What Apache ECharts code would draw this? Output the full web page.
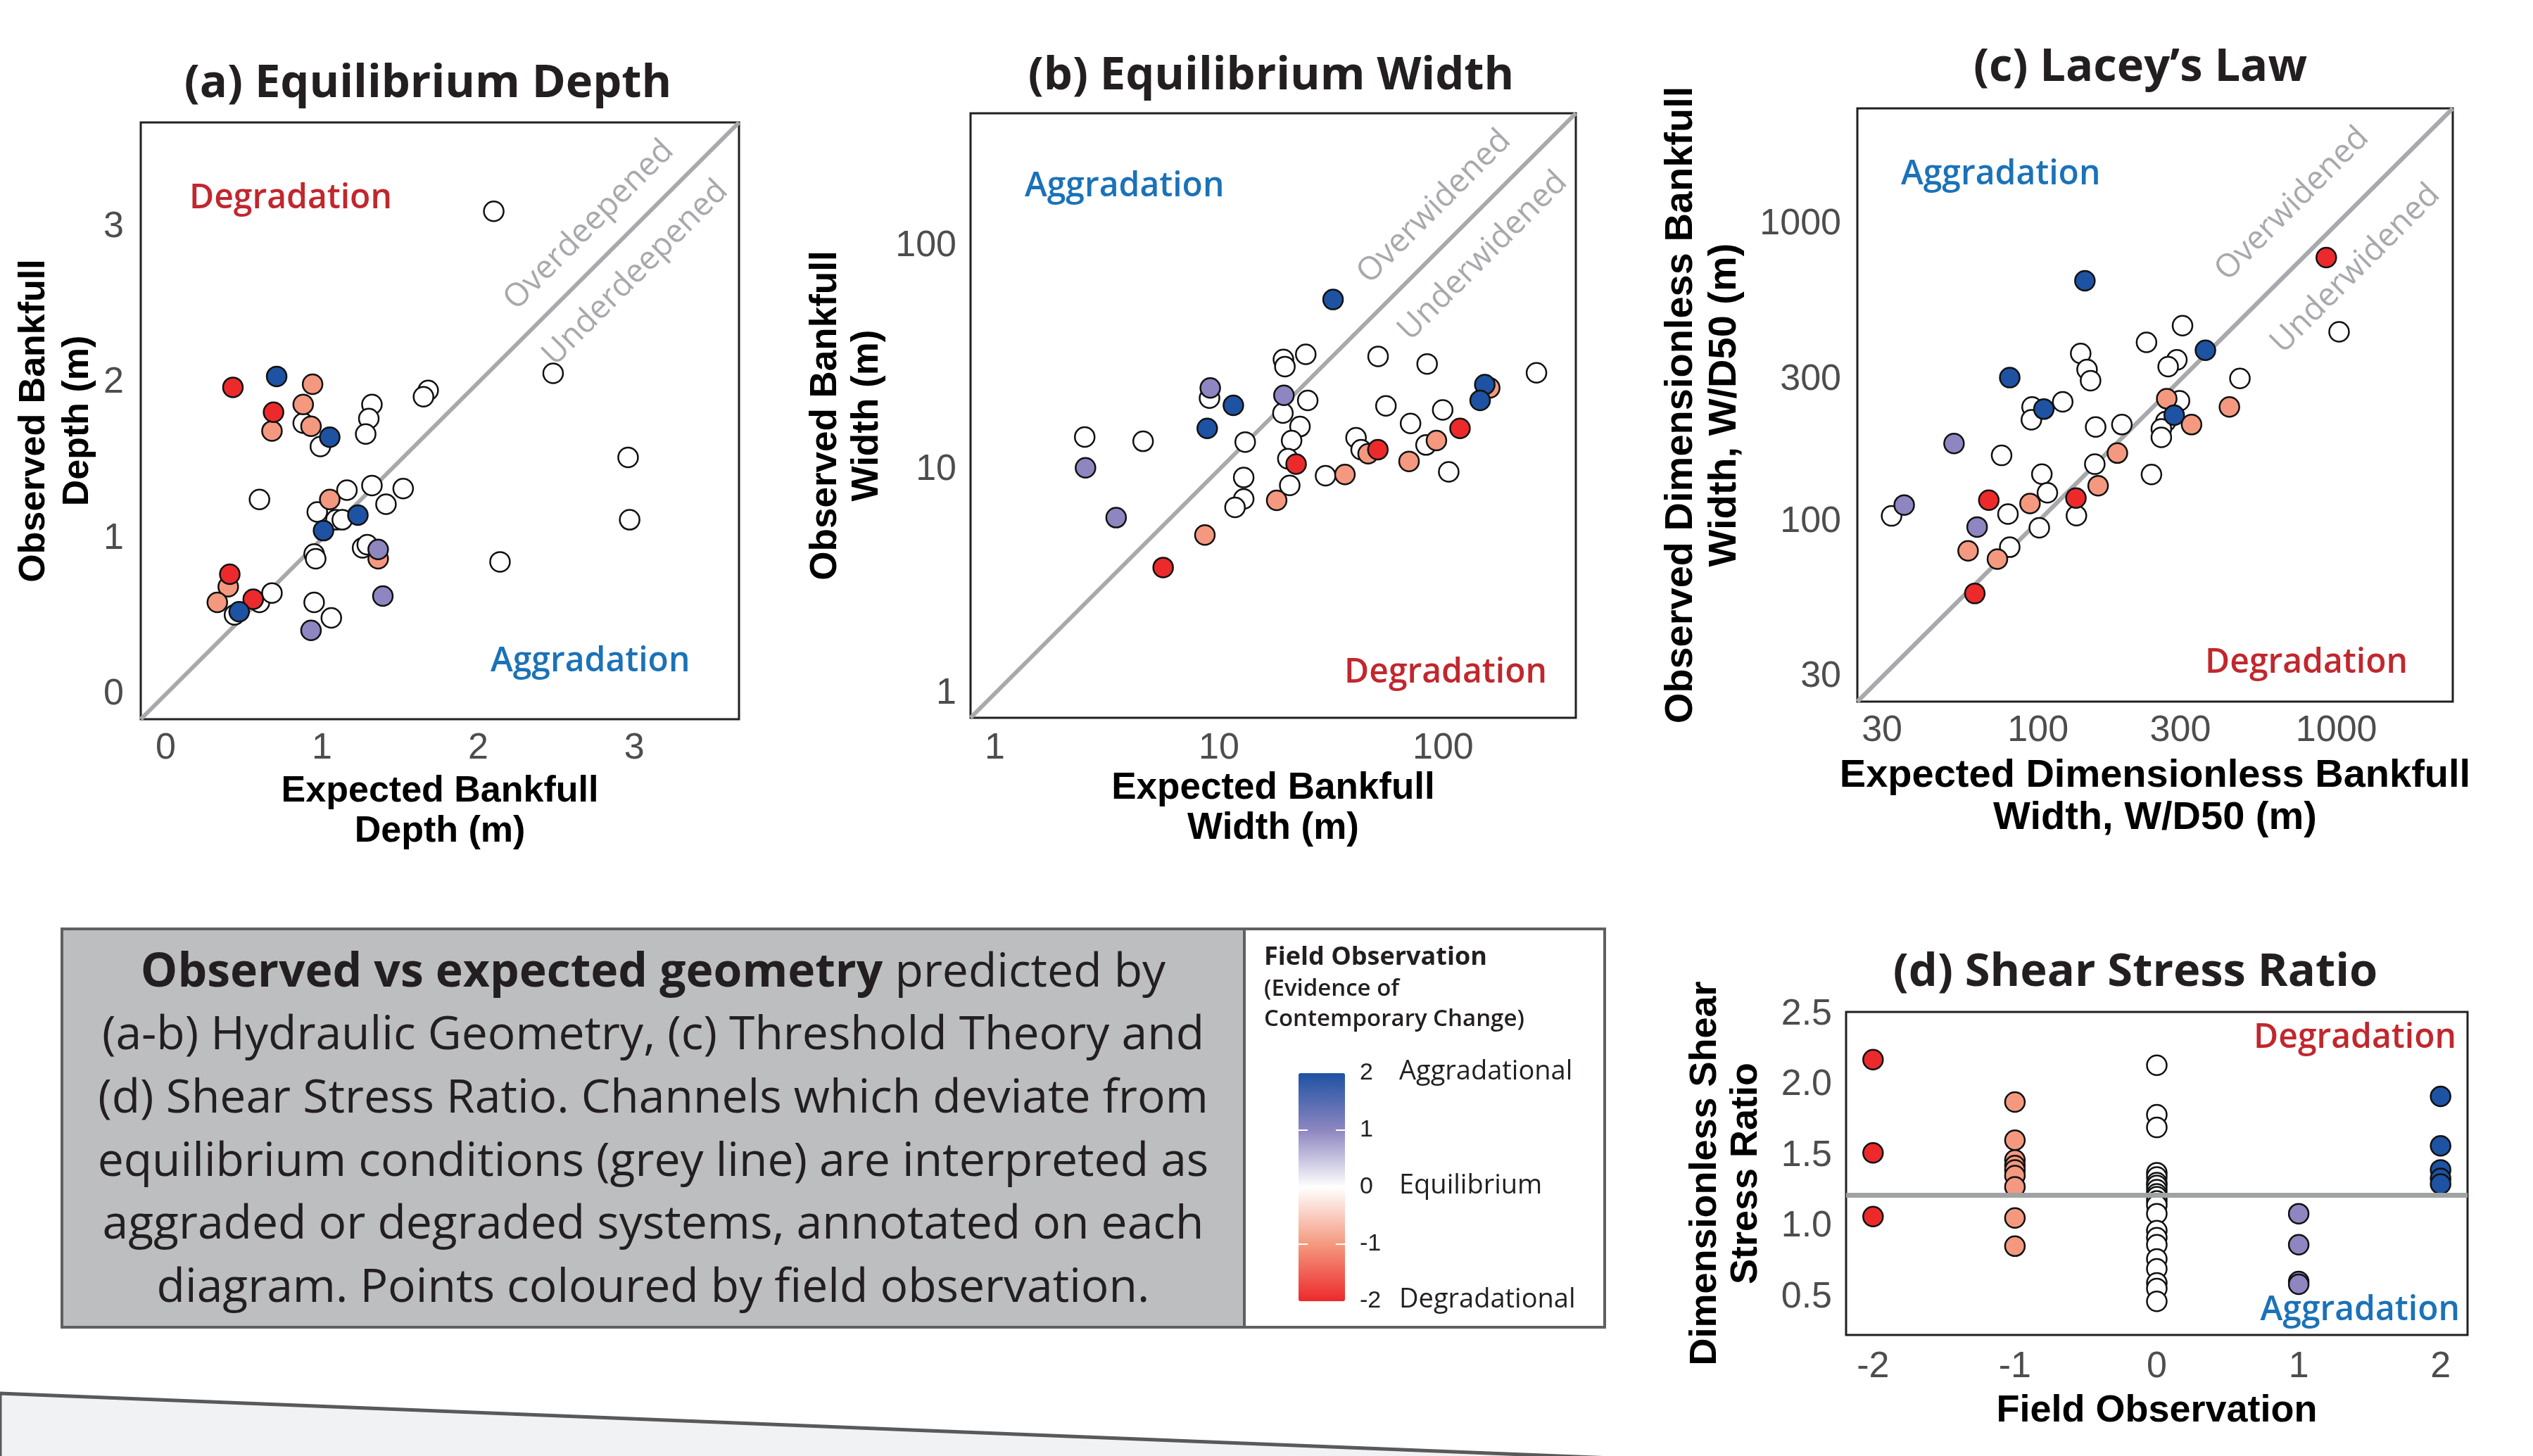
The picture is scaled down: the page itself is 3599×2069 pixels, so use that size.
<!DOCTYPE html>
<html>
<head>
<meta charset="utf-8">
<title>Observed vs expected channel geometry</title>
<script src="https://cdn.jsdelivr.net/npm/echarts@6.0.0/dist/echarts.min.js"></script>
<style>
  html, body { margin: 0; padding: 0; background: #fff; }
  #chart { width: 3599px; height: 2069px; }
</style>
</head>
<body>
<div id="chart"></div>
<script>
// field observation code: -2 degradational ... 0 equilibrium ... 2 aggradational
// (a) [expected depth, observed depth, field obs]
const depthPoints = [
  [2.10, 3.10, 0], [2.48, 2.06, 0], [1.68, 1.95, 0], [1.65, 1.91, 0], [2.96, 1.52, 0], [2.97, 1.12, 0], [2.14, 0.85, 0],
  [0.88, 1.74, 0], [0.99, 1.59, 0], [1.32, 1.86, 0], [1.30, 1.77, 0], [1.28, 1.67, 0], [0.60, 1.25, 0], [1.16, 1.31, 0],
  [1.32, 1.34, 0], [1.52, 1.32, 0], [1.41, 1.22, 0], [0.97, 1.17, 0], [1.09, 1.12, 0], [1.13, 1.12, 0], [1.26, 0.94, 0],
  [1.29, 0.96, 0], [0.95, 0.90, 0], [0.96, 0.87, 0], [0.60, 0.59, 0], [0.68, 0.65, 0], [0.44, 0.51, 0], [0.95, 0.59, 0],
  [1.06, 0.49, 0],
  [0.94, 1.99, -1], [0.88, 1.86, -1], [0.93, 1.72, -1], [0.68, 1.69, -1], [1.05, 1.25, -1], [1.36, 0.87, -1],
  [0.40, 0.69, -1], [0.33, 0.59, -1],
  [0.43, 1.97, -2], [0.69, 1.81, -2], [0.41, 0.77, -2], [0.56, 0.61, -2],
  [1.36, 0.93, 1], [1.39, 0.63, 1], [0.93, 0.41, 1],
  [0.71, 2.04, 2], [1.05, 1.65, 2], [1.23, 1.15, 2], [1.01, 1.05, 2], [0.47, 0.53, 2]
];

// (b) [expected width, observed width, field obs]
const widthPoints = [
  [24.4, 32.8, 0], [19.4, 31.1, 0], [19.7, 28.9, 0], [51.3, 32.1, 0], [84.9, 29.7, 0], [261, 27.1, 0], [9.08, 20.9, 0],
  [24.9, 20.4, 0], [19.3, 17.9, 0], [23.0, 15.6, 0], [55.6, 19.3, 0], [99.6, 18.5, 0], [71.6, 16.1, 0], [83.9, 12.9, 0],
  [2.52, 14.0, 0], [4.59, 13.4, 0], [13.1, 13.3, 0], [21.1, 13.5, 0], [40.9, 13.9, 0], [43.1, 12.3, 0], [20.3, 11.2, 0],
  [106, 9.79, 0], [29.9, 9.40, 0], [12.9, 9.23, 0], [20.7, 8.51, 0], [12.9, 7.41, 0], [11.8, 6.79, 0],
  [161.5, 23.2, -1], [93.4, 13.5, -1], [46.3, 11.8, -1], [70.5, 10.9, -1], [36.5, 9.52, -1], [18.1, 7.30, -1], [8.66, 5.11, -1],
  [119, 15.3, -2], [51.2, 12.3, -2], [22.1, 10.6, -2], [5.64, 3.66, -2],
  [9.15, 23.2, 1], [19.5, 21.5, 1], [2.54, 10.2, 1], [3.48, 6.11, 1],
  [32.3, 57.6, 2], [153.5, 24.0, 2], [146.3, 20.4, 2], [11.6, 19.4, 2], [8.87, 15.3, 2]
];

// (c) [expected W/D50, observed W/D50, field obs]
const laceyPoints = [
  [1021, 435, 0], [305, 456, 0], [231, 401, 0], [292, 350, 0], [273, 332, 0], [475, 303, 0], [139, 368, 0], [146, 325, 0],
  [150, 298, 0], [121, 253, 0], [95.5, 243, 0], [95, 220, 0], [298, 255, 0], [268, 217, 0], [259, 205, 0], [259, 192, 0],
  [156, 208, 0], [191, 212, 0], [75.5, 167, 0], [155, 156, 0], [240, 144, 0], [103, 144.5, 0], [107.5, 125, 0],
  [134.5, 104.7, 0], [79.3, 106, 0], [101, 95.3, 0], [32.3, 104.5, 0], [80.4, 82, 0],
  [270, 259, -1], [438, 243, -1], [327, 212, -1], [184.5, 170, -1], [159, 132, -1], [94, 115, -1], [58.3, 79.7, -1], [73.1, 74.8, -1],
  [925, 773, -2], [134, 120, -2], [68.4, 118, -2], [61.4, 57.3, -2],
  [52.3, 183, 1], [35.6, 113.7, 1], [62.5, 95.9, 1],
  [143.6, 646, 2], [364, 377, 2], [80.4, 305, 2], [104.6, 239, 2], [286, 228, 2]
];

// (d) shear stress ratio grouped by field observation
const shearField = [
  -2, -2, -2,
  -1, -1, -1, -1, -1, -1, -1, -1, -1,
  0, 0, 0, 0, 0, 0, 0, 0, 0, 0, 0, 0, 0, 0, 0, 0, 0, 0, 0, 0, 0,
  1, 1, 1, 1,
  2, 2, 2, 2, 2
];
const shearRatio = [
  2.18, 1.52, 1.07,
  1.88, 1.61, 1.47, 1.43, 1.40, 1.36, 1.28, 1.06, 0.86,
  2.14, 1.79, 1.70, 1.38, 1.35, 1.31, 1.29, 1.26, 1.23, 1.21, 1.18, 1.15, 1.09, 0.97, 0.92, 0.87, 0.77, 0.70, 0.60, 0.56, 0.47,
  1.09, 0.87, 0.61, 0.59,
  1.92, 1.57, 1.40, 1.34, 1.30
];
const shearEquilibrium = 1.22;

// axis ranges and tick labels
const depthRange = [-0.16, 3.67];
const depthTicks = [0, 1, 2, 3];
const widthRange = [0.78, 391];
const widthTicks = [1, 10, 100];
const laceyRange = [24.8, 2455];
const laceyTicks = [30, 100, 300, 1000];
const fieldRange = [-2.19, 2.19];
const fieldTicks = [-2, -1, 0, 1, 2];
const ratioRange = [0.232, 2.517];
const ratioTicks = [0.5, 1, 1.5, 2, 2.5];

const obsColors = ['#ec2a2b', '#f4997f', '#ffffff', '#8d86c0', '#1e52a3'];
const captionLines = [
  '{b|Observed vs expected geometry} predicted by',
  '(a-b) Hydraulic Geometry, (c) Threshold Theory and',
  '(d) Shear Stress Ratio. Channels which deviate from',
  'equilibrium conditions (grey line) are interpreted as',
  'aggraded or degraded systems, annotated on each',
  'diagram. Points coloured by field observation.'
];

const RED = '#c1272d';
const BLUE = '#1b72b8';
const GREY_TXT = '#a7a9ac';
const INK = '#231f20';

const chart = echarts.init(document.getElementById('chart'), null, { renderer: 'canvas' });

function grid(left, top, width, height) {
  return {
    left, top, width, height, show: true, containLabel: false, outerBoundsMode: 'none',
    borderColor: INK, borderWidth: 3, backgroundColor: 'transparent'
  };
}

function axis(gi, type, range, ticks, margin, name, nameGap, nameSize, nameLH, fmt) {
  return {
    gridIndex: gi, type, min: range[0], max: range[1], logBase: 10,
    axisLine: { show: false }, axisTick: { show: false }, splitLine: { show: false },
    axisLabel: {
      customValues: ticks, margin, color: '#4d4d4d', fontFamily: 'Liberation Sans', fontSize: 52,
      formatter: fmt || (v => String(v))
    },
    name, nameLocation: 'middle', nameGap,
    nameTextStyle: { fontFamily: 'Liberation Sans', fontWeight: 'bold', fontSize: nameSize, lineHeight: nameLH, color: '#000' }
  };
}

function diagonal(i, range) {
  return {
    type: 'line', xAxisIndex: i, yAxisIndex: i, silent: true, symbol: 'none', z: 1,
    data: [[range[0], range[0]], [range[1], range[1]]],
    lineStyle: { color: '#a7a9ac', width: 6 }
  };
}

function points(i, data) {
  return {
    type: 'scatter', xAxisIndex: i, yAxisIndex: i, z: 2,
    data, symbolSize: 28,
    itemStyle: { borderColor: '#111', borderWidth: 2.5, opacity: 1 }
  };
}

function txt(x, y, text, o) {
  return {
    type: 'text', x, y, rotation: o.rotation || 0, z: o.z || 10, silent: true,
    style: {
      text, fill: o.fill || INK, fontFamily: o.family || 'Open Sans', fontWeight: o.weight || 'normal',
      fontSize: o.size, align: o.align || 'center', verticalAlign: 'middle',
      textAlign: o.align || 'center', textVerticalAlign: 'middle', rich: o.rich
    }
  };
}

const shearData = shearRatio.map((r, k) => [shearField[k], r, shearField[k]]);

const graphics = [
  // page decoration bottom left
  { type: 'polygon', silent: true, shape: { points: [[0, 1980], [2290, 2072], [0, 2072]] }, style: { fill: '#f1f2f4', stroke: '#58595b', lineWidth: 5 } },
  // caption + legend box
  { type: 'rect', silent: true, shape: { x: 88, y: 1320, width: 1680, height: 566 }, style: { fill: '#bcbec0' } },
  { type: 'rect', silent: true, shape: { x: 1768, y: 1320, width: 512, height: 566 }, style: { fill: '#ffffff' } },
  { type: 'rect', silent: true, z: 5, shape: { x: 88, y: 1320, width: 2192, height: 566 }, style: { fill: null, stroke: '#5f6062', lineWidth: 4 } },
  { type: 'line', silent: true, z: 5, shape: { x1: 1768, y1: 1320, x2: 1768, y2: 1886 }, style: { stroke: '#5f6062', lineWidth: 4 } },

  // panel titles
  txt(608, 119, '(a) Equilibrium Depth', { size: 65, weight: 'bold' }),
  txt(1806, 108, '(b) Equilibrium Width', { size: 65, weight: 'bold' }),
  txt(3041, 96, '(c) Lacey\u2019s Law', { size: 65, weight: 'bold' }),
  txt(3034, 1382, '(d) Shear Stress Ratio', { size: 65, weight: 'bold' }),

  // quadrant annotations
  txt(269, 282, 'Degradation', { size: 48, weight: 600, fill: RED, align: 'left' }),
  txt(697, 940, 'Aggradation', { size: 48, weight: 600, fill: BLUE, align: 'left' }),
  txt(1456, 265, 'Aggradation', { size: 48, weight: 600, fill: BLUE, align: 'left' }),
  txt(2198, 956, 'Degradation', { size: 48, weight: 600, fill: RED, align: 'right' }),
  txt(2701, 248, 'Aggradation', { size: 48, weight: 600, fill: BLUE, align: 'left' }),
  txt(3421, 942, 'Degradation', { size: 48, weight: 600, fill: RED, align: 'right' }),
  txt(3490, 1475, 'Degradation', { size: 48, weight: 600, fill: RED, align: 'right' }),
  txt(3495, 1862, 'Aggradation', { size: 48, weight: 600, fill: BLUE, align: 'right' }),

  // labels along the equilibrium line
  txt(837, 320, 'Overdeepened', { size: 46, fill: GREY_TXT, rotation: Math.PI / 4 }),
  txt(903, 388, 'Underdeepened', { size: 46, fill: GREY_TXT, rotation: Math.PI / 4 }),
  txt(2038, 294, 'Overwidened', { size: 46, fill: GREY_TXT, rotation: Math.PI / 4 }),
  txt(2107, 364, 'Underwidened', { size: 46, fill: GREY_TXT, rotation: Math.PI / 4 }),
  txt(3257, 290, 'Overwidened', { size: 46, fill: GREY_TXT, rotation: Math.PI / 4 }),
  txt(3347, 382, 'Underwidened', { size: 46, fill: GREY_TXT, rotation: Math.PI / 4 }),

  // legend header
  txt(1796, 1361, 'Field Observation', { size: 36, weight: 'bold', align: 'left' }),
  txt(1796, 1406, '(Evidence of', { size: 33, weight: 600, align: 'left' }),
  txt(1796, 1449, 'Contemporary Change)', { size: 33, weight: 600, align: 'left' }),

  // colour bar labels
  txt(1932, 1525, '2', { size: 34, family: 'Liberation Sans', align: 'left' }),
  txt(1932, 1606, '1', { size: 34, family: 'Liberation Sans', align: 'left' }),
  txt(1932, 1687, '0', { size: 34, family: 'Liberation Sans', align: 'left' }),
  txt(1932, 1768, '-1', { size: 34, family: 'Liberation Sans', align: 'left' }),
  txt(1932, 1849, '-2', { size: 34, family: 'Liberation Sans', align: 'left' }),
  txt(1988, 1523, 'Aggradational', { size: 38, align: 'left' }),
  txt(1988, 1685, 'Equilibrium', { size: 38, align: 'left' }),
  txt(1988, 1847, 'Degradational', { size: 38, align: 'left' }),
  { type: 'line', silent: true, z: 20, shape: { x1: 1845, y1: 1606, x2: 1858, y2: 1606 }, style: { stroke: '#fff', lineWidth: 2 } },
  { type: 'line', silent: true, z: 20, shape: { x1: 1898, y1: 1606, x2: 1911, y2: 1606 }, style: { stroke: '#fff', lineWidth: 2 } },
  { type: 'line', silent: true, z: 20, shape: { x1: 1845, y1: 1768, x2: 1858, y2: 1768 }, style: { stroke: '#fff', lineWidth: 2 } },
  { type: 'line', silent: true, z: 20, shape: { x1: 1898, y1: 1768, x2: 1911, y2: 1768 }, style: { stroke: '#fff', lineWidth: 2 } }
];

captionLines.forEach((line, k) => {
  graphics.push(txt(928, 1383 + k * 89.6, line, {
    size: 66, z: 6,
    rich: { b: { fontWeight: 'bold', fontSize: 66, fontFamily: 'Open Sans', fill: INK, color: INK } }
  }));
});

const option = {
  backgroundColor: '#ffffff',
  animation: false,
  textStyle: { fontFamily: 'Liberation Sans' },
  grid: [
    grid(200, 174, 850, 848),
    grid(1379, 161, 860, 859),
    grid(2639, 154, 846, 843),
    grid(2623, 1438, 883, 459)
  ],
  xAxis: [
    axis(0, 'value', depthRange, depthTicks, 16, 'Expected Bankfull\nDepth (m)', 74, 52, 57),
    axis(1, 'log', widthRange, widthTicks, 18, 'Expected Bankfull\nWidth (m)', 72, 53, 57),
    axis(2, 'log', laceyRange, laceyTicks, 16, 'Expected Dimensionless Bankfull\nWidth, W/D50 (m)', 76, 56, 60),
    axis(3, 'value', fieldRange, fieldTicks, 20, 'Field Observation', 80, 54, 57)
  ],
  yAxis: [
    axis(0, 'value', depthRange, depthTicks, 24, 'Observed Bankfull\nDepth (m)', 58, 52, 62),
    axis(1, 'log', widthRange, widthTicks, 20, 'Observed Bankfull\nWidth (m)', 117, 53, 59),
    axis(2, 'log', laceyRange, laceyTicks, 23, 'Observed Dimensionless Bankfull\nWidth, W/D50 (m)', 157, 56, 62),
    axis(3, 'value', ratioRange, ratioTicks, 20, 'Dimensionless Shear\nStress Ratio', 113, 54, 58, v => v.toFixed(1))
  ],
  visualMap: {
    type: 'continuous', min: -2, max: 2, dimension: 2, seriesIndex: [1, 3, 5, 6],
    calculable: false, orient: 'vertical', left: 1845, top: 1525, padding: 0,
    itemWidth: 66, itemHeight: 324, text: null, hoverLink: false,
    inRange: { color: obsColors }
  },
  series: [
    diagonal(0, depthRange), points(0, depthPoints),
    diagonal(1, widthRange), points(1, widthPoints),
    diagonal(2, laceyRange), points(2, laceyPoints),
    Object.assign(points(3, shearData), {
      markLine: {
        silent: true, symbol: 'none', label: { show: false },
        lineStyle: { color: '#a0a3a3', width: 7, type: 'solid' },
        data: [{ yAxis: shearEquilibrium }]
      }
    })
  ],
  graphic: graphics
};

chart.setOption(option);
</script>
</body>
</html>
